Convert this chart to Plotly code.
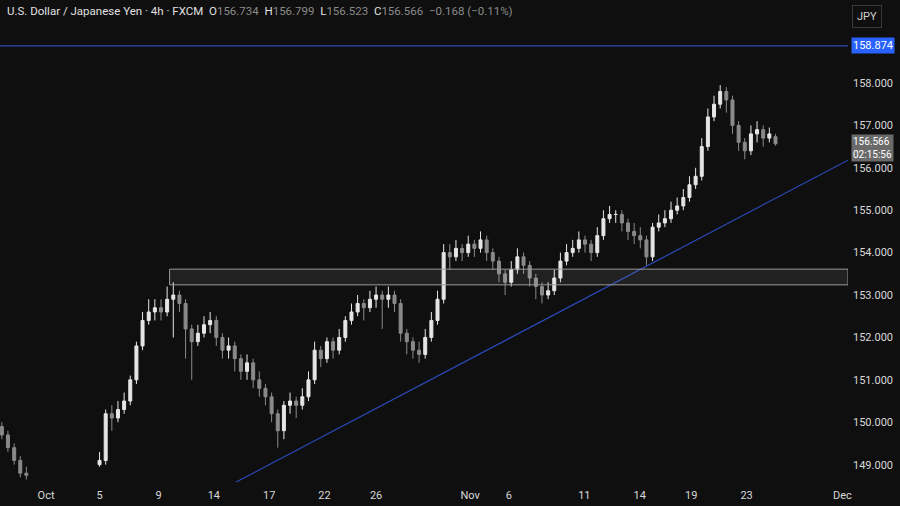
import numpy as np
import plotly.graph_objects as go

# x unit = trading day (Oct 1 = 0), 3 candles per day
xa = [-2.4, -2.07, -1.73, -1.4, -1.07]
oa = [149.9, 149.7, 149.4, 149.1, 148.8]
ca = [149.7, 149.4, 149.1, 148.8, 148.75]
ha = [150.0, 149.8, 149.5, 149.2, 148.95]
la = [149.6, 149.3, 149.0, 148.7, 148.65]

opens = [149.0, 149.1, 150.2, 150.1, 150.3, 150.5, 151.0, 151.8, 152.4, 152.6,
         152.7, 152.6, 152.9, 153.0, 152.8, 152.2, 151.9, 152.1, 152.3, 152.4,
         152.0, 151.7, 151.8, 151.5, 151.2, 151.4, 151.0, 150.8, 150.6, 150.2,
         149.8, 150.4, 150.5, 150.4, 150.6, 151.0, 151.7, 151.5, 151.9, 151.7,
         152.0, 152.4, 152.6, 152.8, 152.7, 152.9, 153.0, 152.9, 153.0, 152.8,
         152.1, 151.9, 151.7, 151.6, 152.0, 152.4, 152.9, 154.0, 153.9, 154.1,
         154.0, 154.2, 154.1, 154.3, 154.0, 153.8, 153.5, 153.3, 153.6, 153.9,
         153.7, 153.4, 153.2, 153.0, 153.1, 153.4, 153.8, 154.0, 154.1, 154.3,
         154.2, 154.0, 154.4, 154.8, 154.9, 154.9, 154.7, 154.5, 154.4, 154.3,
         153.9, 154.6, 154.7, 154.8, 155.0, 155.1, 155.3, 155.6, 155.8, 156.5,
         157.2, 157.5, 157.8, 157.6, 157.0, 156.6, 156.4, 156.8, 156.9, 156.7,
         156.734]
closes = [149.1, 150.2, 150.1, 150.3, 150.5, 151.0, 151.8, 152.4, 152.6, 152.7,
          152.6, 152.9, 153.0, 152.8, 152.2, 151.9, 152.1, 152.3, 152.4, 152.0,
          151.7, 151.8, 151.5, 151.2, 151.4, 151.0, 150.8, 150.6, 150.2, 149.8,
          150.4, 150.5, 150.4, 150.6, 151.0, 151.7, 151.5, 151.9, 151.7, 152.0,
          152.4, 152.6, 152.8, 152.7, 152.9, 153.0, 152.9, 153.0, 152.8, 152.1,
          151.9, 151.7, 151.6, 152.0, 152.4, 152.9, 154.0, 153.9, 154.1, 154.0,
          154.2, 154.1, 154.3, 154.0, 153.8, 153.5, 153.3, 153.6, 153.9, 153.7,
          153.4, 153.2, 153.0, 153.1, 153.4, 153.8, 154.0, 154.1, 154.3, 154.2,
          154.0, 154.4, 154.8, 154.9, 154.9, 154.7, 154.5, 154.4, 154.3, 153.9,
          154.6, 154.7, 154.8, 155.0, 155.1, 155.3, 155.6, 155.8, 156.5, 157.2,
          157.5, 157.8, 157.6, 157.0, 156.6, 156.4, 156.8, 156.9, 156.7, 156.8,
          156.566]
highs = [149.3, 150.3, 150.4, 150.5, 150.7, 151.1, 151.9, 152.6, 152.9, 152.9,
         152.9, 153.2, 153.3, 153.1, 152.9, 152.3, 152.3, 152.5, 152.6, 152.5,
         152.1, 152.0, 151.9, 151.6, 151.6, 151.5, 151.2, 150.9, 150.7, 150.3,
         150.5, 150.7, 150.6, 150.8, 151.2, 151.9, 151.8, 152.0, 152.0, 152.2,
         152.5, 152.8, 153.0, 152.9, 153.1, 153.2, 153.1, 153.2, 153.1, 152.9,
         152.2, 152.0, 151.9, 152.2, 152.6, 153.1, 154.2, 154.2, 154.3, 154.2,
         154.4, 154.3, 154.5, 154.4, 154.1, 153.9, 153.6, 153.8, 154.1, 154.0,
         153.8, 153.5, 153.3, 153.3, 153.6, 154.0, 154.2, 154.3, 154.5, 154.4,
         154.3, 154.6, 155.0, 155.1, 155.0, 155.0, 154.8, 154.7, 154.6, 154.4,
         154.7, 154.9, 155.0, 155.2, 155.3, 155.5, 155.8, 156.0, 156.7, 157.4,
         157.7, 157.95, 157.9, 157.7, 157.1, 156.7, 157.0, 157.1, 157.0, 156.95,
         156.799]
lows = [148.95, 149.0, 149.8, 150.0, 150.2, 150.4, 150.9, 151.7, 152.3, 152.4,
        152.4, 152.5, 152.0, 152.6, 151.5, 151.0, 151.8, 152.0, 152.1, 151.8,
        151.5, 151.5, 151.2, 151.0, 151.0, 150.8, 150.6, 150.4, 150.0, 149.4,
        149.6, 150.2, 150.1, 150.3, 150.5, 150.9, 151.3, 151.4, 151.5, 151.6,
        151.9, 152.3, 152.5, 152.4, 152.6, 152.7, 152.2, 152.7, 152.6, 151.9,
        151.6, 151.5, 151.4, 151.5, 151.9, 152.3, 152.8, 153.6, 153.8, 153.8,
        153.9, 153.9, 154.0, 153.8, 153.6, 153.3, 153.0, 153.2, 153.5, 153.5,
        153.2, 152.9, 152.8, 152.9, 153.0, 153.3, 153.7, 153.9, 154.0, 154.0,
        153.8, 153.9, 154.3, 154.7, 154.7, 154.5, 154.3, 154.2, 154.1, 153.7,
        153.8, 154.5, 154.6, 154.7, 154.9, 155.0, 155.2, 155.5, 155.7, 156.4,
        157.1, 157.4, 157.3, 156.8, 156.4, 156.2, 156.3, 156.6, 156.5, 156.6,
        156.523]
xb = np.arange(len(closes)) / 3 + 2.9

tick_vals = [0, 2.9, 6.1, 9.1, 12.1, 15.1, 17.9, 23, 25.1, 29.2, 32.2, 35.0, 38.0, 43.2]
tick_text = ["Oct", "5", "9", "14", "17", "22", "26", "Nov", "6", "11", "14", "19", "23", "Dec"]

resist_level = 158.874
zone = [153.24, 153.61]
zone_start = 6.7
trend_x = [10.31, 43.5]
trend_y = [148.59, 156.18]
last_price = 156.566

X = list(xa) + list(xb)
fig = go.Figure(go.Candlestick(
    x=X, open=oa + opens, high=ha + highs, low=la + lows, close=ca + closes,
    increasing=dict(line=dict(color="#e6e6e6", width=1), fillcolor="#e6e6e6"),
    decreasing=dict(line=dict(color="#8a8a8a", width=1), fillcolor="#8a8a8a"),
    whiskerwidth=0, showlegend=False, hoverinfo="skip"))

fig.add_shape(type="rect", x0=zone_start, x1=43.5, y0=zone[0], y1=zone[1],
              line=dict(color="#9a9a9a", width=1), fillcolor="rgba(255,255,255,0.08)")
fig.add_trace(go.Scatter(x=trend_x, y=trend_y, mode="lines",
                         line=dict(color="#2a4bb8", width=1.2), showlegend=False, hoverinfo="skip"))
fig.add_shape(type="line", xref="paper", x0=0, x1=1, y0=resist_level, y1=resist_level,
              line=dict(color="#2a4bb8", width=1.2))

fig.add_annotation(xref="paper", x=1.003, y=resist_level, xanchor="left", yanchor="middle",
                   text="158.874", showarrow=False, bgcolor="#2962ff",
                   font=dict(color="white", size=11, family="Roboto"), borderpad=1)
fig.add_annotation(xref="paper", x=1.003, y=last_price - 0.1, xanchor="left", yanchor="middle",
                   text="156.566<br>02:15:56", showarrow=False, bgcolor="#6a6a6a",
                   font=dict(color="white", size=10, family="Roboto"), borderpad=1, align="left")
fig.add_annotation(xref="paper", yref="paper", x=1.005, y=0.99, xanchor="left", yanchor="top",
                   text="JPY", showarrow=False, bordercolor="#3a3a3a", borderwidth=1,
                   borderpad=4, font=dict(color="#d0d0d0", size=11, family="Roboto"))
fig.add_annotation(xref="paper", yref="paper", x=0.006, y=0.995, xanchor="left", yanchor="top",
                   showarrow=False, font=dict(size=11.5, family="Roboto", color="#e0e0e0"),
                   text="U.S. Dollar / Japanese Yen · 4h · FXCM  O<span style='color:#8a8a8a'>156.734</span>  "
                        "H<span style='color:#8a8a8a'>156.799</span>  L<span style='color:#8a8a8a'>156.523</span>  "
                        "C<span style='color:#8a8a8a'>156.566  −0.168 (−0.11%)</span>")

fig.update_layout(
    width=900, height=506, margin=dict(l=0, r=52, t=0, b=21, pad=0),
    paper_bgcolor="#0f0f0f", plot_bgcolor="#0f0f0f",
    font=dict(family="Roboto", color="#d8d8d8", size=11),
    xaxis=dict(range=[-2.5, 43.5], rangeslider=dict(visible=False), showgrid=False,
               zeroline=False, tickvals=tick_vals, ticktext=tick_text, ticks="",
               automargin=False, ticklabelstandoff=2,
               tickfont=dict(color="#d8d8d8", size=11)),
    yaxis=dict(range=[148.52, 159.957], side="right", showgrid=False, zeroline=False,
               tickvals=list(range(149, 159)), tickformat=".3f", ticks="", ticklabelstandoff=4,
               automargin=False, tickfont=dict(color="#d8d8d8", size=11)),
)
fig.write_html("out.html", config={"displayModeBar": False},
               post_script="document.body.style.margin='0';document.body.style.background='#0f0f0f';")
